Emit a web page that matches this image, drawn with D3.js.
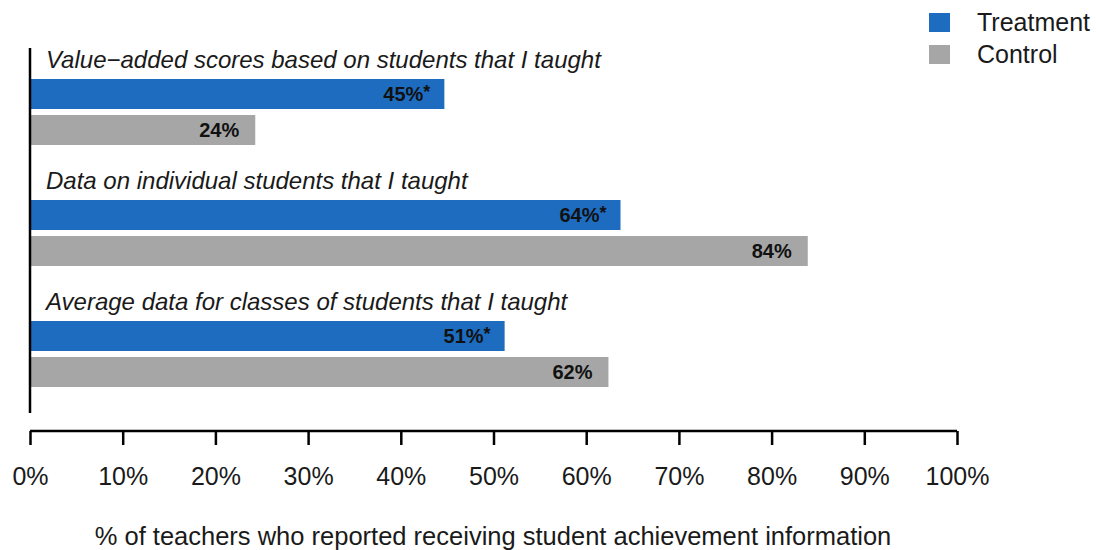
<!DOCTYPE html>
<html><head><meta charset="utf-8">
<script src="https://cdn.jsdelivr.net/npm/d3@7/dist/d3.min.js"></script>
<style>body{margin:0;background:#fff;}svg{display:block;font-family:"Liberation Sans",Arial,sans-serif;}</style>
</head><body><svg id="c" width="1096" height="550"></svg>
<script>
const categories = ["Value\u2212added scores based on students that I taught","Data on individual students that I taught","Average data for classes of students that I taught"];
const series = ["Treatment","Control"];
const treatmentValues = [44.7, 63.7, 51.2];
const controlValues = [24.3, 83.9, 62.4];
const treatmentLabels = ["45%","64%","51%"];
const controlLabels = ["24%","84%","62%"];
const treatmentSig = [true,true,true];
const tickValues = [0,10,20,30,40,50,60,70,80,90,100];
const axisTitle = "% of teachers who reported receiving student achievement information";
const colors = {Treatment:"#1d6cc0", Control:"#a6a6a6"};

const svg = d3.select("#c");
const x = d3.scaleLinear().domain([0,100]).range([30,957]);
const gy = d3.scaleBand().domain(categories).range([48,411]).paddingInner(0).paddingOuter(0);
const barH = 30, titleOff = 30;

categories.forEach((cat,i)=>{
  const y0 = gy(cat);
  const g = svg.append("g");
  g.append("text").attr("x",46).attr("y",y0+20).attr("font-size",24).attr("font-style","italic").attr("fill","#1a1a1a").text(cat);
  const rows = [
    {s:"Treatment", v:treatmentValues[i], l:treatmentLabels[i], sig:treatmentSig[i], y:y0+titleOff+1},
    {s:"Control", v:controlValues[i], l:controlLabels[i], sig:false, y:y0+titleOff+37}
  ];
  rows.forEach(r=>{
    g.append("rect").attr("x",x(0)).attr("y",r.y).attr("width",x(r.v)-x(0)).attr("height",barH).attr("fill",colors[r.s]);
    const t = g.append("text").attr("x",x(r.v)-(r.sig?14:16)).attr("y",r.y+barH/2+7).attr("text-anchor","end")
      .attr("font-size",20).attr("font-weight","bold").attr("fill","#111");
    t.append("tspan").text(r.l);
    if(r.sig) t.append("tspan").attr("dy",-3).attr("font-size",18).text("*");
  });
});

// y axis line
svg.append("line").attr("x1",30).attr("x2",30).attr("y1",48).attr("y2",413).attr("stroke","#000").attr("stroke-width",2.5);

// x axis
const ax = svg.append("g").attr("transform","translate(0,431)")
  .call(d3.axisBottom(x).tickValues(tickValues).tickSize(14).tickSizeOuter(0).tickFormat(d=>d+"%"));
ax.select(".domain").attr("stroke","#000").attr("stroke-width",2.5).attr("d","M"+x(0)+",0H"+x(100));
ax.selectAll(".tick line").attr("stroke","#000").attr("stroke-width",2.5);
ax.selectAll(".tick text").attr("font-size",25).attr("fill","#1a1a1a").attr("font-family","Liberation Sans, Arial, sans-serif").attr("dy","0").attr("y",54);

svg.append("text").attr("x",493).attr("y",545).attr("text-anchor","middle").attr("font-size",25.5).attr("fill","#1a1a1a").text(axisTitle);

// legend
series.forEach((s,i)=>{
  svg.append("rect").attr("x",929).attr("y",13+i*32).attr("width",21).attr("height",19).attr("fill",colors[s]);
  svg.append("text").attr("x",977).attr("y",31+i*32).attr("font-size",25).attr("fill","#1a1a1a").text(s);
});
</script></body></html>
